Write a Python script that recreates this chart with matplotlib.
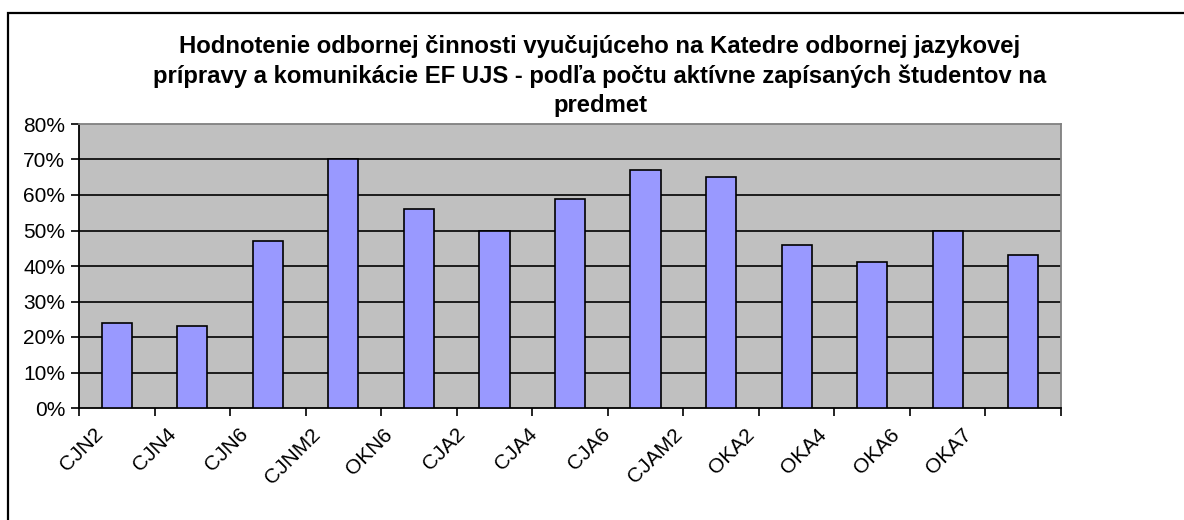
import matplotlib
matplotlib.use("Agg")
from matplotlib import pyplot as plt
from matplotlib.patches import Rectangle
from matplotlib.transforms import ScaledTranslation
import numpy as np

plt.rcParams['font.family'] = ['Liberation Sans', 'DejaVu Sans']

# data
predmety = ["CJN2", "CJN4", "CJN6", "CJNM2", "OKN6", "CJA2", "CJA4",
            "CJA6", "CJAM2", "OKA2", "OKA4", "OKA6", "OKA7"]
hodnoty = [24, 23, 47, 70, 56, 50, 59, 67, 65, 46, 41, 50, 43]
y_ticks = [0, 10, 20, 30, 40, 50, 60, 70, 80]

W, H = 1184, 520
fig = plt.figure(figsize=(W / 100, H / 100), dpi=100)

# outer chart frame (cut off at right and bottom)
fig.patches.append(Rectangle((8 / W, -0.1), 1.2, 1.1 - 13 / H, transform=fig.transFigure,
                             fill=False, edgecolor="black", linewidth=1.6))

ax = fig.add_axes([79 / W, 1 - 408 / H, (1061 - 79) / W, (408 - 124) / H])
ax.set_facecolor("#C0C0C0")

x = np.arange(len(predmety))
ax.bar(x, hodnoty, width=0.4, color="#9999FF", edgecolor="black", linewidth=1.2, zorder=3)

ax.set_xlim(-0.5, len(predmety) - 0.5)
ax.set_ylim(0, 80)
ax.set_yticks(y_ticks)
ax.set_yticklabels([f"{v}%" for v in y_ticks], fontsize=15)
for v in y_ticks[1:-1]:
    ax.axhline(v, color="black", linewidth=1.2, zorder=1)

# category ticks sit between bars
ax.set_xticks(np.arange(-0.5, len(predmety), 1.0), minor=False)
ax.set_xticklabels([])
ax.set_xticks(x, minor=True)
ax.set_xticklabels(predmety, minor=True, rotation=45, ha="right", va="top",
                   rotation_mode="anchor", fontsize=15)
ax.tick_params(axis="x", which="minor", length=0, pad=12)
ax.tick_params(axis="x", which="major", direction="out", length=6, width=1.2)
ax.tick_params(axis="y", direction="out", length=6, width=1.2, pad=4)
# labels in the original drift left of their bars, more so to the right
for i, lab in enumerate(ax.get_xticklabels(minor=True)):
    dx = -(23 + 3.2 * i) / 100
    lab.set_transform(lab.get_transform() + ScaledTranslation(dx, 0, fig.dpi_scale_trans))

for s in ["left", "bottom"]:
    ax.spines[s].set_color("black")
    ax.spines[s].set_linewidth(1.3)
for s in ["top", "right"]:
    ax.spines[s].set_color("#808080")
    ax.spines[s].set_linewidth(1.3)

fig.text(600 / W, 1 - 76 / H,
         "Hodnotenie odbornej činnosti vyučujúceho na Katedre odbornej jazykovej\n"
         "prípravy a komunikácie EF UJS - podľa počtu aktívne zapísaných študentov na\n"
         "predmet",
         ha="center", va="center", fontsize=17.2, fontweight="bold", linespacing=1.35)

fig.savefig("out.png", dpi=100)
